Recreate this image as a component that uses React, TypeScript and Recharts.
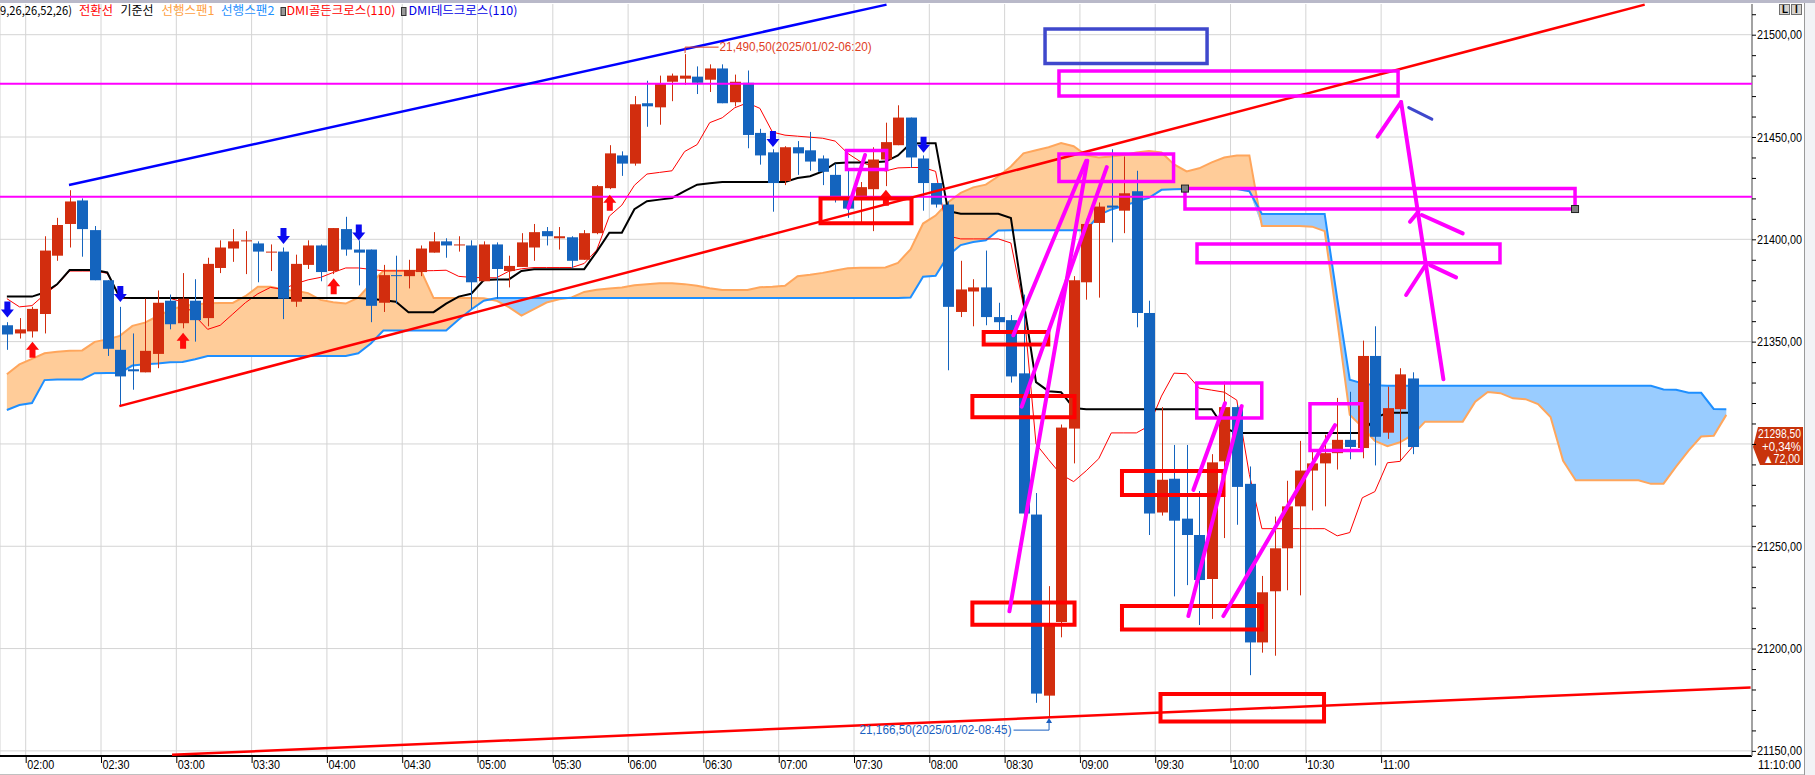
import React from 'react';
import {
  ComposedChart,
  Bar,
  Line,
  Area,
  XAxis,
  YAxis,
  CartesianGrid,
  ReferenceLine,
  ReferenceArea,
  ReferenceDot,
} from 'recharts';

const W = 1815;
const H = 775;

// 5분봉, 첫 캔들 index = -2 (01:50), 02:00 = 0
const FIRST_IDX = -2;

const OPEN = [
  21358, 21354, 21355, 21363.5, 21392, 21407.5, 21419, 21404.5, 21380, 21346, 21336.5, 21335, 21344, 21370, 21359, 21370,
  21361.5, 21386, 21395.5, 21399, 21398, 21393.5, 21394, 21369.5, 21387.5, 21397, 21384.5, 21405, 21395, 21395, 21369, 21382.5,
  21382, 21384, 21393.5, 21399, 21397, 21397, 21379.5, 21397.5, 21384.5, 21386.5, 21396, 21404, 21400.5, 21401, 21390, 21403,
  21425, 21441, 21437, 21466.5, 21464.5, 21477, 21478.5, 21479.5, 21478, 21483.5, 21467, 21476.5, 21452, 21442.5, 21428.5, 21445,
  21443.5, 21439.5, 21431.5, 21420, 21420, 21424.5, 21439, 21446, 21459.5, 21439.5, 21427.5, 21417, 21364.5, 21374.5, 21376.5, 21362,
  21360.5, 21334.5, 21265.5, 21177, 21213, 21307.5, 21379, 21408, 21416.5, 21414, 21423.5, 21364, 21266.5, 21283, 21263.5, 21255.5,
  21234, 21291.5, 21318, 21280.5, 21203, 21228, 21249, 21269.5, 21287, 21290.5, 21295.5, 21302, 21298, 21343, 21305.5, 21317, 21332,
];
const HIGH = [
  21359.5, 21361.5, 21367, 21401.5, 21410.5, 21424, 21420, 21406.5, 21380, 21367, 21354, 21371, 21375, 21373, 21383.5, 21380.5,
  21391, 21399.5, 21405, 21404, 21399, 21397.5, 21396, 21392.5, 21399.5, 21397.5, 21405.5, 21411, 21399.5, 21395, 21387.5, 21392,
  21390, 21397, 21403.5, 21400.5, 21401.5, 21399.5, 21399, 21398.5, 21392, 21403, 21407.5, 21406, 21406, 21401.5, 21404.5, 21426.5,
  21446, 21443, 21470, 21477.5, 21480, 21481, 21490.5, 21484.5, 21485.5, 21485.5, 21480.5, 21482.5, 21454, 21444, 21445.5, 21448,
  21452.5, 21441, 21437, 21434, 21428, 21445, 21457, 21465.5, 21459.5, 21441, 21427.5, 21418.5, 21389.5, 21380.5, 21394.5, 21369,
  21363, 21373, 21276, 21230.5, 21309.5, 21382, 21410, 21418, 21444, 21440.5, 21433.5, 21370, 21318, 21299.5, 21299.5, 21277,
  21295, 21330.5, 21319, 21289, 21235.5, 21264.5, 21282, 21301.5, 21296.5, 21304.5, 21322.5, 21325.5, 21350.5, 21357.5, 21328, 21337, 21335,
];
const LOW = [
  21346, 21351.5, 21352, 21354, 21389.5, 21396, 21391.5, 21380, 21343, 21318.5, 21326.5, 21335, 21337, 21356, 21356.5, 21350,
  21357.5, 21383.5, 21389, 21383, 21379, 21384.5, 21361, 21367, 21385.5, 21379.5, 21383, 21392, 21377.5, 21359.5, 21364.5, 21368.5,
  21376, 21382, 21393.5, 21391, 21394, 21366, 21379.5, 21371, 21376.5, 21386.5, 21389.5, 21397, 21395, 21386, 21390, 21402.5,
  21424.5, 21431, 21436, 21455, 21456, 21467.5, 21475.5, 21471, 21472, 21466.5, 21465, 21444.5, 21436.5, 21413.5, 21426.5, 21431.5,
  21433.5, 21426.5, 21418, 21410.5, 21408, 21404, 21426, 21446, 21435, 21414, 21415.5, 21336, 21362, 21357.5, 21358, 21355.5,
  21330, 21264, 21173.5, 21166.5, 21205.5, 21290.5, 21370.5, 21371.5, 21398.5, 21403, 21357, 21255.5, 21265, 21225.5, 21231, 21211.5,
  21214.5, 21254, 21260.5, 21187, 21198, 21196.5, 21228.5, 21226, 21267.5, 21269.5, 21287.5, 21292.5, 21293, 21289.5, 21302.5, 21291.5, 21295,
];
const CLOSE = [
  21353.5, 21356, 21366, 21394.5, 21407, 21418.5, 21405, 21380, 21346.5, 21333, 21335.5, 21345.5, 21369, 21358.5, 21371, 21360.5,
  21388, 21396, 21399, 21399.5, 21394, 21394, 21371, 21388, 21397, 21384, 21405.5, 21395, 21393.5, 21367.5, 21382.5, 21382,
  21385, 21395.5, 21399, 21397, 21397.5, 21379, 21397.5, 21385.5, 21387, 21398.5, 21403.5, 21401.5, 21401.5, 21389.5, 21403, 21426,
  21442, 21437, 21466, 21465, 21476, 21480, 21480, 21476.5, 21483.5, 21466.5, 21477, 21451, 21441, 21427.5, 21445, 21442,
  21438, 21433, 21420, 21415, 21425.5, 21439, 21447.5, 21459.5, 21440, 21427.5, 21417, 21367, 21375.5, 21376.5, 21362, 21359.5,
  21333, 21266, 21178, 21211.5, 21308, 21380, 21407.5, 21416, 21415.5, 21422.5, 21364, 21266, 21282.5, 21262.5, 21255.5, 21233.5,
  21291, 21318, 21279, 21203, 21227.5, 21249, 21269.5, 21287, 21290.5, 21295.5, 21302, 21298.5, 21343, 21303.5, 21317.5, 21334, 21298.5,
];

// 전환선 / 기준선
const CONVERSION = [
  21371, 21367, 21367.6, 21373, 21377.7, 21384.5, 21384.5, 21384.5, 21383.4, 21371.2, 21371.2, 21371.2, 21371.2, 21371.2, 21369.3, 21362.5,
  21356, 21358, 21363.5, 21369, 21373.4, 21376.5, 21375.6, 21378.3, 21380.2, 21381.4, 21383.8, 21386, 21386, 21385.3, 21384.6, 21384.6,
  21384.6, 21384.6, 21384.7, 21384.9, 21381.9, 21381.4, 21381.2, 21381.2, 21384.4, 21385.6, 21386.2, 21386.2, 21386.2, 21386.2, 21388.2, 21394.8,
  21411.3, 21416.7, 21426.4, 21431.9, 21432.7, 21433.5, 21442.9, 21446.3, 21457, 21459.4, 21464.3, 21466.7, 21464, 21452.4, 21450.9, 21450.4,
  21449.9, 21449.4, 21448, 21442, 21438, 21435.4, 21433.4, 21434.9, 21435.1, 21435.1, 21433.2, 21401.6, 21400.2, 21400.2, 21400.2, 21400.2,
  21398.2, 21367.6, 21300, 21292.3, 21285, 21281.6, 21286.9, 21292.8, 21305.4, 21305.4, 21305.4, 21308.8, 21323.4, 21334.6, 21334.3, 21327.3,
  21326.3, 21325.3, 21321.4, 21285, 21258.6, 21258.6, 21258.6, 21258.6, 21258.6, 21258.6, 21255.1, 21256.7, 21273.7, 21276.7, 21290.8, 21291.5, 21298.6,
];
const BASE = [
  21372, 21372, 21372, 21374, 21378, 21385, 21385, 21385, 21383.8, 21371.5, 21371.3, 21371.3, 21371.3, 21371.3, 21371.3, 21371.3,
  21371.3, 21371.3, 21371.3, 21371.3, 21371.3, 21371.3, 21371.3, 21371.3, 21371.3, 21371.3, 21371.3, 21371.3, 21371.3, 21370.9, 21370.2, 21369.5,
  21364.4, 21364.4, 21364.4, 21368.6, 21372, 21373.4, 21380.1, 21380.4, 21380.4, 21384.5, 21385.4, 21385.4, 21385.4, 21385.4, 21385.4, 21394,
  21403.2, 21403.2, 21414.7, 21418.6, 21419.4, 21420.2, 21423.5, 21426.7, 21427.4, 21428, 21428, 21428, 21428, 21428, 21428, 21430,
  21430.8, 21433.2, 21437.2, 21437.6, 21437.6, 21437.7, 21438, 21441, 21446.8, 21447, 21447, 21413.8, 21412.5, 21412.5, 21412.5, 21412.5,
  21410.4, 21370, 21330.2, 21325.8, 21325.3, 21317.6, 21317, 21317, 21317, 21317, 21317, 21317, 21317, 21317, 21317, 21317,
  21317, 21307.8, 21305.4, 21305.3, 21305.3, 21305.3, 21305.3, 21305.3, 21305.3, 21305.3, 21305.3, 21305.3, 21305.3, 21312.7, 21315.3, 21315.3, 21315.3,
];

// 선행스팬1 / 선행스팬2 (index -2 .. 135)
const SPAN1 = [
  21334.1, 21338.9, 21341.6, 21344.3, 21345.1, 21345.5, 21345.7, 21349.9, 21351.1, 21352.8, 21357.7, 21359.3, 21362.4, 21365.4, 21367.4, 21368.2,
  21368.8, 21368.9, 21368.9, 21372.2, 21376.8, 21376.8, 21375.5, 21374.9, 21373.7, 21370.4, 21369.2, 21368.6, 21371.5, 21378.3, 21384.6, 21384.6,
  21384.6, 21384.6, 21371.3, 21371.3, 21371.3, 21371.3, 21371.2, 21370, 21366.9, 21362.7, 21365.9, 21369.1, 21370.7, 21371.6, 21374.3, 21375.4,
  21376, 21376.5, 21377.5, 21378.1, 21378.5, 21378.5, 21378.1, 21377.3, 21376.1, 21375.2, 21375.2, 21375.2, 21376.6, 21376.8, 21377.3, 21382,
  21382.7, 21383.6, 21384.8, 21385.9, 21386.1, 21386.1, 21386.2, 21388.5, 21395.1, 21407.7, 21411.6, 21418.1, 21422.7, 21425.4, 21426.7, 21430.8,
  21435.6, 21442, 21443.5, 21445, 21447, 21445.5, 21441, 21440, 21440.5, 21441.2, 21442.4, 21443.2, 21442.4, 21436.6, 21433.2, 21434.7,
  21437.6, 21440, 21441, 21441, 21406.5, 21406.5, 21406.5, 21406.5, 21406.2, 21404, 21360.3, 21314.2, 21308.3, 21301.5, 21298.9, 21300.8,
  21304.4, 21310.9, 21310.9, 21310.9, 21310.9, 21320.6, 21325.4, 21324.8, 21322.3, 21321.9, 21319.5, 21313.2, 21291.8, 21282.2, 21282.2, 21282.2,
  21282.2, 21282.2, 21282.2, 21280.5, 21280.6, 21288.9, 21296.7, 21303.6, 21304, 21314.2,
];
const SPAN2 = [
  21316.6, 21319, 21320, 21331.2, 21331.5, 21331.5, 21331.5, 21334.6, 21334.7, 21334.7, 21338.3, 21339, 21339.3, 21339.9, 21340.1, 21341.4,
  21343, 21343, 21343, 21343, 21343, 21343, 21343, 21343, 21343, 21343, 21343, 21343, 21344.3, 21349.1, 21355.4, 21355.4,
  21355.4, 21355.4, 21355.4, 21355.4, 21360.8, 21365.7, 21370, 21371.3, 21371.3, 21371.3, 21371.3, 21371.3, 21371.3, 21371.3, 21371.3, 21371.3,
  21371.3, 21371.3, 21371.3, 21371.3, 21371.3, 21371.3, 21371.3, 21371.3, 21371.3, 21371.3, 21371.3, 21371.3, 21371.3, 21371.3, 21371.3, 21371.3,
  21371.3, 21371.3, 21371.3, 21371.3, 21371.3, 21371.3, 21371.3, 21371.3, 21371.6, 21381.7, 21382.2, 21392.1, 21397.2, 21398.7, 21399.5, 21404.3,
  21404.4, 21404.4, 21404.4, 21404.4, 21404.4, 21404.4, 21404.4, 21411.8, 21414.6, 21416.4, 21418.4, 21420.3, 21424.2, 21424.5, 21424.6, 21424.6,
  21424.6, 21424.6, 21424.6, 21423.5, 21412.4, 21412.4, 21412.4, 21412.4, 21412.4, 21412.4, 21371, 21331.4, 21329.6, 21328.7, 21328.4, 21328.4,
  21328.4, 21328.4, 21328.4, 21328.4, 21328.4, 21328.4, 21328.4, 21328.4, 21328.4, 21328.4, 21328.4, 21328.4, 21328.4, 21328.4, 21328.4, 21328.4,
  21328.4, 21328.4, 21328.4, 21328.4, 21326.6, 21326.5, 21325, 21325, 21317.1, 21316.9,
];

const TIME_TICKS = [-0.5, 5.5, 11.5, 17.5, 23.5, 29.5, 35.5, 41.5, 47.5, 53.5, 59.5, 65.5, 71.5, 77.5, 83.5, 89.5, 95.5, 101.5, 107.5];
const TIME_LABELS = ['02:00', '02:30', '03:00', '03:30', '04:00', '04:30', '05:00', '05:30', '06:00', '06:30', '07:00', '07:30', '08:00', '08:30', '09:00', '09:30', '10:00', '10:30', '11:00'];
const PRICE_TICKS = [
  21150, 21160, 21170, 21180, 21190, 21200, 21210, 21220, 21230, 21240, 21250, 21260, 21270, 21280, 21290, 21300, 21310, 21320, 21330,
  21340, 21350, 21360, 21370, 21380, 21390, 21400, 21410, 21420, 21430, 21440, 21450, 21460, 21470, 21480, 21490, 21500, 21510,
];
const GRID_PRICES = [21150, 21200, 21250, 21300, 21350, 21400, 21450, 21500];

// DMI 신호
const DMI_DEAD = [
  { i: -2, p: 21365.7 }, { i: 7, p: 21373.3 }, { i: 20, p: 21401.6 }, { i: 26, p: 21403.3 }, { i: 59, p: 21449 }, { i: 71, p: 21446.2 },
];
const DMI_GOLDEN = [
  { i: 0, p: 21346 }, { i: 12, p: 21350.4 }, { i: 24, p: 21377.1 }, { i: 46, p: 21417.9 }, { i: 68, p: 21420.3 },
];

// 수평선
const H_LINES = [21476, 21420.8];

// 추세선
const BLUE_TREND = [{ x: 2.95, y: 21426.5 }, { x: 68.09, y: 21514.7 }];
const RED_TRENDS = [
  [{ x: 6.96, y: 21318.5 }, { x: 128.5, y: 21514.7 }],
  [{ x: 11.16, y: 21148.1 }, { x: 136.94, y: 21181.0 }],
];

// 박스
const RED_BOXES = [
  { x1: 62.83, x2: 70.08, y1: 21407.9, y2: 21419.9 },
  { x1: 75.83, x2: 80.98, y1: 21348.6, y2: 21354.7 },
  { x1: 74.93, x2: 83.07, y1: 21313.1, y2: 21323.4 },
  { x1: 74.93, x2: 83.07, y1: 21211.7, y2: 21222.5 },
  { x1: 86.85, x2: 94.94, y1: 21275.0, y2: 21286.8 },
  { x1: 86.85, x2: 97.99, y1: 21209.3, y2: 21220.8 },
  { x1: 89.92, x2: 102.95, y1: 21164.3, y2: 21177.8 },
];
const MAGENTA_BOXES = [
  { x1: 81.83, x2: 108.85, y1: 21470.0, y2: 21482.3 },
  { x1: 81.83, x2: 90.96, y1: 21428.2, y2: 21441.7 },
  { x1: 91.87, x2: 122.95, y1: 21414.8, y2: 21424.8 },
  { x1: 92.83, x2: 116.97, y1: 21388.6, y2: 21397.7 },
  { x1: 64.9, x2: 68.1, y1: 21434.1, y2: 21443.4 },
  { x1: 92.81, x2: 97.99, y1: 21312.7, y2: 21329.8 },
  { x1: 101.83, x2: 105.95, y1: 21296.8, y2: 21319.7 },
];
const BLUE_BOXES = [{ x1: 80.72, x2: 93.63, y1: 21485.9, y2: 21502.8 }];
const BOX_HANDLES = [{ i: 91.87, p: 21424.8 }, { i: 122.95, p: 21414.8 }];

// 손그림 선
const MAGENTA_STROKES = [
  [{ x: 77.88, y: 21218.2 }, { x: 84.09, y: 21438.4 }],
  [{ x: 78.19, y: 21353.1 }, { x: 84.0, y: 21438.4 }],
  [{ x: 78.86, y: 21318.2 }, { x: 85.64, y: 21435.3 }],
  [{ x: 92.14, y: 21215.9 }, { x: 96.39, y: 21318.5 }],
  [{ x: 92.54, y: 21277.5 }, { x: 95.06, y: 21319.9 }],
  [{ x: 94.93, y: 21215.9 }, { x: 103.83, y: 21309.2 }],
  [{ x: 65.05, y: 21415.2 }, { x: 66.38, y: 21441.2 }],
  [{ x: 112.46, y: 21331.6 }, { x: 109.09, y: 21467.1 }],
  [{ x: 109.09, y: 21467.1 }, { x: 107.21, y: 21450.2 }],
  [{ x: 109.8, y: 21408.6 }, { x: 110.47, y: 21413.5 }],
  [{ x: 110.74, y: 21411.9 }, { x: 114.0, y: 21402.9 }],
  [{ x: 109.49, y: 21372.8 }, { x: 111.13, y: 21388.3 }],
  [{ x: 111.4, y: 21387.4 }, { x: 113.47, y: 21381.4 }],
];
const NAVY_STROKES = [[{ x: 109.7, y: 21464.4 }, { x: 111.54, y: 21458.7 }]];

const HIGH_MARK = { i: 52, p: 21490.5, text: '21,490,50(2025/01/02-06:20)' };
const LOW_MARK = { i: 81, p: 21166.5, text: '21,166,50(2025/01/02-08:45)' };
const LAST_PRICE = 21298.5;
const LAST_TAG = ['21298,50', '+0,34%', '▲72,00'];

const X_MIN = -2.548;
const X_MAX = 137.05;
const Y_MIN = 21147.5;
const Y_MAX = 21515.0;

const UP = '#D22D0E';
const DOWN = '#1464BE';
const SANS = "'Liberation Sans', Arial, sans-serif";
const KR = "'Noto Sans CJK KR', 'Noto Sans', sans-serif";

const ROWS = SPAN1.map((s1, k) => {
  const s2 = SPAN2[k];
  const lo = Math.min(s1, s2);
  const row: any = { i: FIRST_IDX + k, s1, s2, orange: [lo, s1], blue: [lo, s2] };
  if (k < OPEN.length) {
    row.o = OPEN[k];
    row.h = HIGH[k];
    row.l = LOW[k];
    row.c = CLOSE[k];
    row.range = [LOW[k], HIGH[k]];
    row.conv = CONVERSION[k];
    row.base = BASE[k];
  }
  return row;
});

const Candle = (props: any) => {
  const { x, y, width, height, payload } = props;
  if (!payload || payload.o == null || !isFinite(y) || !isFinite(height)) return null;
  const { o, c, h, l } = payload;
  const top = Math.min(y, y + height);
  const hh = Math.abs(height);
  const k = h - l > 0 ? hh / (h - l) : 0;
  const yOf = (v: number) => top + (h - v) * k;
  const color = c >= o ? UP : DOWN;
  const cx = Math.round(x + width / 2);
  const bTop = yOf(Math.max(o, c));
  const bBot = yOf(Math.min(o, c));
  return (
    <g>
      <line x1={cx + 0.5} x2={cx + 0.5} y1={top} y2={top + hh} stroke={color} strokeWidth={1} />
      <rect x={cx - 5} y={bTop} width={11} height={Math.max(1, bBot - bTop)} fill={color} />
    </g>
  );
};

const DownArrow = ({ cx, cy }: any) => (
  <polygon
    points={`${cx - 2.5},${cy - 8} ${cx + 3.5},${cy - 8} ${cx + 3.5},${cy} ${cx + 7},${cy} ${cx + 0.5},${cy + 8} ${cx - 6},${cy} ${cx - 2.5},${cy}`}
    fill="#0A0AF0"
  />
);
const UpArrow = ({ cx, cy }: any) => (
  <polygon
    points={`${cx - 2.5},${cy + 8} ${cx + 3.5},${cy + 8} ${cx + 3.5},${cy} ${cx + 7},${cy} ${cx + 0.5},${cy - 8} ${cx - 6},${cy} ${cx - 2.5},${cy}`}
    fill="#FF0A0A"
  />
);

const Handle = ({ cx, cy }: any) => (
  <rect x={cx - 3.5} y={cy - 3.5} width={7} height={7} fill="#808080" stroke="#202020" strokeWidth={1} />
);

const HighLabel = ({ cx, cy }: any) => (
  <g>
    <path d={`M${cx + 0.5} ${cy - 1} V${cy - 7} H${cx + 34}`} stroke="#E0401E" fill="none" strokeWidth={1} />
    <text x={cx + 35} y={cy - 3} fill="#E0401E" fontSize={12} fontFamily={SANS} textLength={152} lengthAdjust="spacingAndGlyphs">
      {HIGH_MARK.text}
    </text>
  </g>
);

const LowLabel = ({ cx, cy }: any) => (
  <g>
    <polygon points={`${cx + 0.5},${cy + 1} ${cx - 2.5},${cy + 6} ${cx + 3.5},${cy + 6}`} fill="#1A5FC0" />
    <path d={`M${cx + 0.5} ${cy + 5} V${cy + 13} H${cx - 35}`} stroke="#1A5FC0" fill="none" strokeWidth={1} />
    <text x={cx - 37} y={cy + 17} fill="#1A5FC0" fontSize={12} fontFamily={SANS} textAnchor="end" textLength={152} lengthAdjust="spacingAndGlyphs">
      {LOW_MARK.text}
    </text>
  </g>
);

const PriceTag = ({ cx, cy }: any) => (
  <g>
    <polygon
      points={`${cx + 1},${cy} ${cx + 6},${cy - 20} ${cx + 51},${cy - 20} ${cx + 51},${cy + 18} ${cx + 8},${cy + 18}`}
      fill="#C8340C"
    />
    <text x={cx + 49} y={cy - 9.5} textAnchor="end" fill="#fff" fontSize={12} fontFamily={SANS} textLength={43} lengthAdjust="spacingAndGlyphs">
      {LAST_TAG[0]}
    </text>
    <text x={cx + 49} y={cy + 3.5} textAnchor="end" fill="#fff" fontSize={12} fontFamily={SANS} textLength={39} lengthAdjust="spacingAndGlyphs">
      {LAST_TAG[1]}
    </text>
    <text x={cx + 48} y={cy + 15.5} textAnchor="end" fill="#fff" fontSize={12} fontFamily={SANS} textLength={37} lengthAdjust="spacingAndGlyphs">
      {LAST_TAG[2]}
    </text>
  </g>
);

// 현재가 태그에 가려지는 눈금 라벨은 그리지 않음
const PriceTick = (props: any) => {
  const { x, y, payload } = props;
  const v = payload.value as number;
  const major = v % 50 === 0 && Math.abs(v - LAST_PRICE) > 12;
  return (
    <g>
      <line x1={x} x2={x + 4} y1={y + 0.5} y2={y + 0.5} stroke="#000" strokeWidth={1} />
      {major && (
        <text x={x + 5} y={y + 4.5} fontSize={12.5} fontFamily={SANS} fill="#000" textLength={45} lengthAdjust="spacingAndGlyphs">
          {v.toFixed(2).replace('.', ',')}
        </text>
      )}
    </g>
  );
};

const TimeTick = (props: any) => {
  const { x, y, payload } = props;
  const k = TIME_TICKS.indexOf(payload.value);
  return (
    <g>
      <line x1={x + 0.5} x2={x + 0.5} y1={y} y2={y + 7} stroke="#000" strokeWidth={1} />
      <text x={x + 1.5} y={y + 13} fontSize={12.5} fontFamily={SANS} fill="#000" textLength={27} lengthAdjust="spacingAndGlyphs">
        {TIME_LABELS[k]}
      </text>
    </g>
  );
};

export default function App() {
  return (
    <div style={{ position: 'fixed', left: 0, top: 0, width: W, height: H, background: '#fff', overflow: 'hidden' }}>
      <ComposedChart width={W} height={H} data={ROWS} margin={{ top: 4, right: 12, bottom: 0, left: 0 }}>
        <CartesianGrid stroke="#D4D4D4" horizontalValues={GRID_PRICES} />
        <XAxis
          type="number"
          dataKey="i"
          domain={[X_MIN, X_MAX]}
          ticks={TIME_TICKS}
          interval={0}
          allowDataOverflow
          height={19}
          tickSize={0}
          tickMargin={0}
          tickLine={false}
          axisLine={{ stroke: '#000', strokeWidth: 2 }}
          tick={<TimeTick />}
        />
        <YAxis
          type="number"
          orientation="right"
          domain={[Y_MIN, Y_MAX]}
          ticks={PRICE_TICKS}
          interval={0}
          allowDataOverflow
          width={51}
          tickSize={0}
          tickMargin={0}
          tickLine={false}
          axisLine={{ stroke: '#8A8A8A', strokeWidth: 1.5 }}
          tick={<PriceTick />}
        />

        <Area dataKey="orange" stroke="none" fill="#FFCC99" fillOpacity={1} dot={false} activeDot={false} isAnimationActive={false} zIndex={100} />
        <Area dataKey="blue" stroke="none" fill="#99CCFF" fillOpacity={1} dot={false} activeDot={false} isAnimationActive={false} zIndex={100} />
        <Line dataKey="s1" stroke="#FFA65C" strokeWidth={2} dot={false} activeDot={false} isAnimationActive={false} zIndex={200} />
        <Line dataKey="s2" stroke="#1E8FFF" strokeWidth={2} dot={false} activeDot={false} isAnimationActive={false} zIndex={200} />
        <Line dataKey="conv" stroke="#FF0000" strokeWidth={1} dot={false} activeDot={false} isAnimationActive={false} zIndex={200} />
        <Line dataKey="base" stroke="#000000" strokeWidth={2} dot={false} activeDot={false} isAnimationActive={false} zIndex={200} />
        <Bar dataKey="range" barSize={11} shape={Candle} isAnimationActive={false} zIndex={300} />

        {H_LINES.map((p) => (
          <ReferenceLine key={`h${p}`} y={p} stroke="#FF00FF" strokeWidth={2} ifOverflow="visible" zIndex={600} />
        ))}
        <ReferenceLine segment={BLUE_TREND} stroke="#0000FF" strokeWidth={2.5} ifOverflow="visible" zIndex={600} />
        {RED_TRENDS.map((s, k) => (
          <ReferenceLine key={`rt${k}`} segment={s} stroke="#FF0000" strokeWidth={2.5} ifOverflow="visible" zIndex={600} />
        ))}
        {RED_BOXES.map((b, k) => (
          <ReferenceArea key={`rb${k}`} {...b} fill="none" fillOpacity={0} stroke="#FF0000" strokeWidth={4} ifOverflow="visible" zIndex={650} />
        ))}
        {MAGENTA_BOXES.map((b, k) => (
          <ReferenceArea key={`mb${k}`} {...b} fill="none" fillOpacity={0} stroke="#FF00FF" strokeWidth={3.5} ifOverflow="visible" zIndex={650} />
        ))}
        {BLUE_BOXES.map((b, k) => (
          <ReferenceArea key={`bb${k}`} {...b} fill="none" fillOpacity={0} stroke="#3F48CC" strokeWidth={3.5} ifOverflow="visible" zIndex={650} />
        ))}
        {MAGENTA_STROKES.map((s, k) => (
          <ReferenceLine key={`ms${k}`} segment={s} stroke="#FF00FF" strokeWidth={4} strokeLinecap="round" ifOverflow="visible" zIndex={700} />
        ))}
        {NAVY_STROKES.map((s, k) => (
          <ReferenceLine key={`ns${k}`} segment={s} stroke="#3F48CC" strokeWidth={3} strokeLinecap="round" ifOverflow="visible" zIndex={700} />
        ))}
        {BOX_HANDLES.map((d, k) => (
          <ReferenceDot key={`hd${k}`} x={d.i} y={d.p} shape={Handle} ifOverflow="visible" zIndex={750} />
        ))}
        {DMI_DEAD.map((d, k) => (
          <ReferenceDot key={`dd${k}`} x={d.i} y={d.p} shape={DownArrow} ifOverflow="visible" zIndex={640} />
        ))}
        {DMI_GOLDEN.map((d, k) => (
          <ReferenceDot key={`dg${k}`} x={d.i} y={d.p} shape={UpArrow} ifOverflow="visible" zIndex={640} />
        ))}
        <ReferenceDot x={HIGH_MARK.i} y={HIGH_MARK.p} shape={HighLabel} ifOverflow="visible" zIndex={760} />
        <ReferenceDot x={LOW_MARK.i} y={LOW_MARK.p} shape={LowLabel} ifOverflow="visible" zIndex={760} />
        <ReferenceDot x={X_MAX} y={LAST_PRICE} shape={PriceTag} ifOverflow="visible" zIndex={760} />
      </ComposedChart>

      <svg width={W} height={H} style={{ position: 'absolute', left: 0, top: 0, pointerEvents: 'none' }}>
        <rect x={0} y={0} width={W} height={3} fill="#B9B9C9" />
        <g fontSize={12} fontFamily={KR}>
          <text x={0} y={15} fill="#000" textLength={72} lengthAdjust="spacingAndGlyphs">9,26,26,52,26)</text>
          <text x={79} y={15} fill="#FF0000" textLength={34} lengthAdjust="spacingAndGlyphs">전환선</text>
          <text x={120.5} y={15} fill="#000" textLength={33} lengthAdjust="spacingAndGlyphs">기준선</text>
          <text x={161.5} y={15} fill="#FFA040" textLength={53} lengthAdjust="spacingAndGlyphs">선행스팬1</text>
          <text x={221} y={15} fill="#1E90FF" textLength={53.5} lengthAdjust="spacingAndGlyphs">선행스팬2</text>
          <rect x={281} y={7.5} width={4.5} height={8} fill="#9A9A9A" stroke="#333" strokeWidth={1} />
          <text x={286.5} y={15} fill="#FF0000" textLength={109} lengthAdjust="spacingAndGlyphs">DMI골든크로스(110)</text>
          <rect x={401.5} y={7.5} width={4.5} height={8} fill="#9A9A9A" stroke="#333" strokeWidth={1} />
          <text x={408.5} y={15} fill="#0000E6" textLength={109} lengthAdjust="spacingAndGlyphs">DMI데드크로스(110)</text>
        </g>
        <rect x={1779.5} y={4.5} width={10} height={10} fill="#D6D3CE" stroke="#707070" />
        <rect x={1791.5} y={4.5} width={10} height={10} fill="#D6D3CE" stroke="#707070" />
        <text x={1782} y={13} fontSize={10} fontFamily={SANS} fontWeight="bold" fill="#000">L</text>
        <text x={1795} y={13} fontSize={10} fontFamily={SANS} fontWeight="bold" fill="#000">I</text>
        <rect x={1804} y={3} width={11} height={H - 3} fill="#F2F3F6" />
        <line x1={1804.5} x2={1804.5} y1={3} y2={H} stroke="#9A9A9A" />
        <text x={1758} y={769} fontSize={12.5} fontFamily={SANS} fill="#000" textLength={43} lengthAdjust="spacingAndGlyphs">11:10:00</text>
        <line x1={0} x2={1804} y1={774.5} y2={774.5} stroke="#C0C0C0" />
      </svg>
    </div>
  );
}
